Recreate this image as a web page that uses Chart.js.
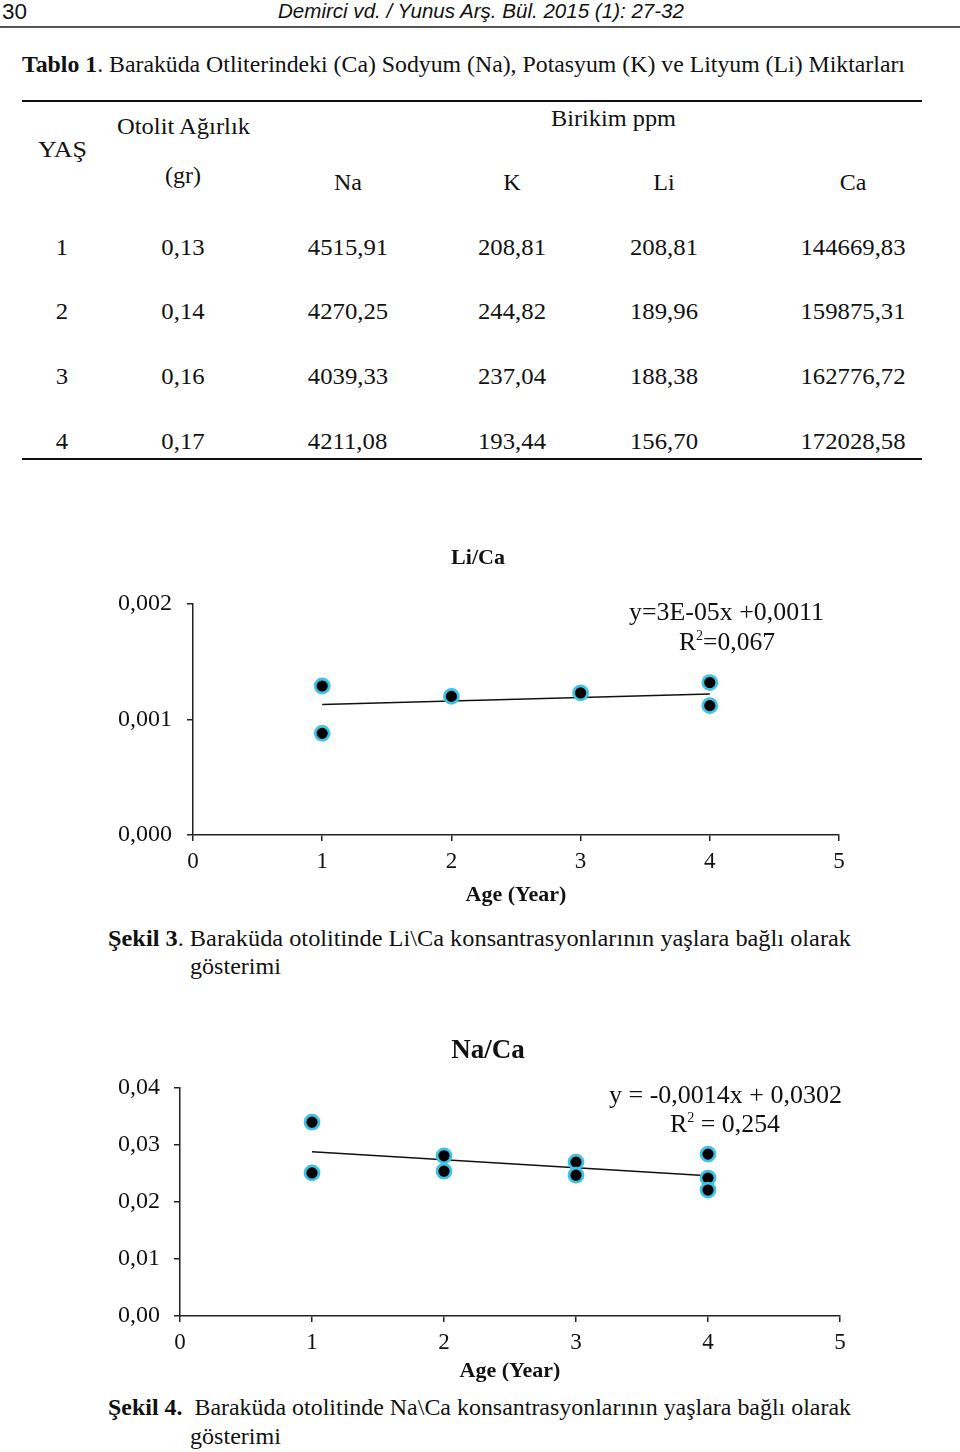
<!DOCTYPE html>
<html>
<head>
<meta charset="utf-8">
<script src="https://cdn.jsdelivr.net/npm/chart.js@4.4.1/dist/chart.umd.min.js"></script>
<style>
  html, body { margin: 0; padding: 0; background: #fff; }
  #page { position: relative; width: 960px; height: 1452px; overflow: hidden; background: #fff; }
  .t { position: absolute; white-space: nowrap; line-height: 1; color: #111;
       font-family: "Liberation Serif", "DejaVu Serif", serif; transform-origin: 0 50%; }
  .hr { position: absolute; background: #111; }
  .cv { position: absolute; }
  sup { font-size: 55%; vertical-align: 0.75em; line-height: 0; }
</style>
</head>
<body>
<div id="page">
  <div class="cv" style="left:101px; top:535px; width:760px; height:380px;"><canvas id="c1" width="760" height="380"></canvas></div>
  <div class="cv" style="left:90px; top:1025px; width:770px; height:365px;"><canvas id="c2" width="770" height="365"></canvas></div>
</div>
<script>
// ---------- Table data ----------
const tableAges = [1, 2, 3, 4];
const otolitWeight = [0.13, 0.14, 0.16, 0.17];
const naPpm = [4515.91, 4270.25, 4039.33, 4211.08];
const kPpm = [208.81, 244.82, 237.04, 193.44];
const liPpm = [208.81, 189.96, 188.38, 156.70];
const caPpm = [144669.83, 159875.31, 162776.72, 172028.58];

// ---------- Chart 1: Li/Ca ----------
const liCaAges = [1, 1, 2, 3, 4, 4];
const liCaValues = [0.00129, 0.00088, 0.00120, 0.00123, 0.00132, 0.00112];
const liCaTrendX = [1, 4];
const liCaTrendY = [0.00113, 0.00122];
const liCaYTicks = [0, 0.001, 0.002];

// ---------- Chart 2: Na/Ca ----------
const naCaAges = [1, 1, 2, 2, 3, 3, 4, 4, 4];
const naCaValues = [0.0340, 0.0251, 0.0281, 0.0254, 0.0270, 0.0247, 0.0284, 0.0242, 0.0221];
const naCaTrendX = [1, 4];
const naCaTrendY = [0.0288, 0.0246];
const naCaYTicks = [0, 0.01, 0.02, 0.03, 0.04];

const xTicks = [0, 1, 2, 3, 4, 5];

const page = document.getElementById('page');
const fmt = (v, d) => v.toFixed(d).replace('.', ',');

// text helper: x1..x2 fit (if x2 given), cy = visual centre
function txt(html, x1, x2, cy, size, opts = {}) {
  const el = document.createElement('div');
  el.className = 't';
  el.innerHTML = html;
  el.style.fontSize = size + 'px';
  if (opts.family) el.style.fontFamily = opts.family;
  if (opts.italic) el.style.fontStyle = 'italic';
  if (opts.bold) el.style.fontWeight = 'bold';
  el.style.top = (cy - size * 0.5) + 'px';
  page.appendChild(el);
  const w = el.getBoundingClientRect().width;
  if (opts.center !== undefined) {
    const sx = opts.sx || 1;
    el.style.left = (opts.center - w / 2) + 'px';
    el.style.transformOrigin = '50% 50%';
    if (sx !== 1) el.style.transform = 'scaleX(' + sx + ')';
  } else {
    el.style.left = x1 + 'px';
    if (x2) el.style.transform = 'scaleX(' + ((x2 - x1) / w).toFixed(4) + ')';
  }
  return el;
}
function hr(x, y, w, h, color) {
  const d = document.createElement('div');
  d.className = 'hr';
  d.style.left = x + 'px'; d.style.top = y + 'px';
  d.style.width = w + 'px'; d.style.height = h + 'px';
  if (color) d.style.background = color;
  page.appendChild(d);
}

// header
const sans = '"Liberation Sans", Arial, sans-serif';
txt('30', 2, 27, 12, 22, { family: sans });
txt('Demirci vd. / Yunus Arş. Bül. 2015 (1): 27-32', 278, 684, 11, 20, { family: sans, italic: true });
hr(0, 26, 960, 2, '#555');

// table title
txt('<b>Tablo 1</b>. Baraküda Otliterindeki (Ca) Sodyum (Na), Potasyum (K) ve Lityum (Li) Miktarları', 22, 905, 64, 23);
hr(22, 100, 900, 1.5, '#111');
hr(22, 458, 900, 1.5, '#111');

txt('Birikim ppm', 551, 676, 118, 24);
txt('Otolit Ağırlık', 117, 250, 126, 24);
txt('YAŞ', 38, 87, 149, 24);
txt('(gr)', 0, 0, 175, 24, { center: 183 });
const colX = [62, 183, 348, 512, 664, 853];
['Na', 'K', 'Li', 'Ca'].forEach((h, i) => txt(h, 0, 0, 182, 24, { center: colX[i + 2] }));
const rowY = [247, 311, 376, 441];
tableAges.forEach((a, i) => {
  const cells = [String(a), fmt(otolitWeight[i], 2), fmt(naPpm[i], 2), fmt(kPpm[i], 2), fmt(liPpm[i], 2), fmt(caPpm[i], 2)];
  cells.forEach((c, j) => txt(c, 0, 0, rowY[i], 24, { center: colX[j], sx: 1.03 }));
});

// equations + captions
txt('y=3E-05x +0,0011', 629, 824, 611, 25);
txt('R<sup>2</sup>=0,067', 679, 775, 641, 25);
txt('<b>Şekil 3</b>. Baraküda otolitinde Li\\Ca konsantrasyonlarının yaşlara bağlı olarak', 108, 851, 938, 23);
txt('gösterimi', 190, 281, 966, 23);

txt('y = -0,0014x + 0,0302', 609, 842, 1094, 25);
txt('R<sup>2</sup> = 0,254', 670, 780, 1123, 25);
txt('<b>Şekil 4.</b>&nbsp; Baraküda otolitinde Na\\Ca konsantrasyonlarının yaşlara bağlı olarak', 108, 851, 1407, 23);
txt('gösterimi', 190, 281, 1436, 23);

// ---------- charts ----------
const serif = '"Liberation Serif", "DejaVu Serif", serif';
Chart.defaults.font.family = serif;
Chart.defaults.color = '#111';

// chart title drawn at a given centre (canvas coords)
const plotTitle = {
  id: 'plotTitle',
  afterDraw(chart, args, o) {
    const ctx = chart.ctx;
    ctx.save();
    ctx.font = 'bold ' + o.size + 'px ' + serif;
    ctx.fillStyle = '#111';
    ctx.textAlign = 'center';
    ctx.textBaseline = 'middle';
    ctx.fillText(o.text, o.x, o.y);
    ctx.restore();
  }
};

function makeChart(id, cfg) {
  const pts = cfg.xs.map((x, i) => ({ x, y: cfg.ys[i] }));
  const trend = cfg.tx.map((x, i) => ({ x, y: cfg.ty[i] }));
  return new Chart(document.getElementById(id), {
    type: 'scatter',
    data: {
      datasets: [
        { label: 'points', data: pts, order: 0,
          pointRadius: 7, pointHoverRadius: 7, pointBorderWidth: 2.8,
          backgroundColor: '#000', borderColor: '#3cc3e8', showLine: false },
        { label: 'trend', data: trend, order: 1, type: 'line', showLine: true,
          pointRadius: 0, borderColor: '#111', borderWidth: 1.5, fill: false }
      ]
    },
    plugins: [plotTitle],
    options: {
      responsive: false, animation: false,
      layout: { padding: { left: 0, right: cfg.padR, top: cfg.padT, bottom: 0 } },
      plugins: {
        legend: { display: false }, tooltip: { enabled: false }, title: { display: false },
        plotTitle: { text: cfg.title, size: cfg.titleSize, x: cfg.titleX, y: cfg.titleY }
      },
      scales: {
        x: { type: 'linear', min: 0, max: 5,
          afterBuildTicks: s => { s.ticks = xTicks.map(v => ({ value: v })); },
          afterFit: s => { s.height = cfg.xH; },
          grid: { drawOnChartArea: false, drawTicks: true, tickLength: 6, color: '#222', lineWidth: 1.5 },
          border: { display: true, color: '#222', width: 1.5 },
          ticks: { font: { family: serif, size: 23 }, color: '#111', padding: 7, maxRotation: 0,
            callback: v => String(v) },
          title: { display: true, text: 'Age (Year)', color: '#111',
            font: { family: serif, size: 22, weight: 'bold' }, padding: { top: 0, bottom: cfg.xTitlePad } }
        },
        y: { type: 'linear', min: 0, max: cfg.yMax,
          afterBuildTicks: s => { s.ticks = cfg.yTicks.map(v => ({ value: v })); },
          afterFit: s => { s.width = cfg.yW; },
          grid: { drawOnChartArea: false, drawTicks: true, tickLength: 6, color: '#222', lineWidth: 1.5 },
          border: { display: true, color: '#222', width: 1.5 },
          ticks: { font: { family: serif, size: 24 }, color: '#111', padding: cfg.yPad,
            callback: v => fmt(v, cfg.dec) }
        }
      }
    }
  });
}

makeChart('c1', { xs: liCaAges, ys: liCaValues, tx: liCaTrendX, ty: liCaTrendY,
  title: 'Li/Ca', titleSize: 22, titleX: 377, titleY: 23, padT: 69, padR: 22,
  xH: 80, xTitlePad: 6, yW: 92, yPad: 15, yMax: 0.002, yTicks: liCaYTicks, dec: 3 });

makeChart('c2', { xs: naCaAges, ys: naCaValues, tx: naCaTrendX, ty: naCaTrendY,
  title: 'Na/Ca', titleSize: 27, titleX: 398, titleY: 26, padT: 63, padR: 20,
  xH: 74, xTitlePad: 5, yW: 90, yPad: 14, yMax: 0.04, yTicks: naCaYTicks, dec: 2 });
</script>
</body>
</html>
